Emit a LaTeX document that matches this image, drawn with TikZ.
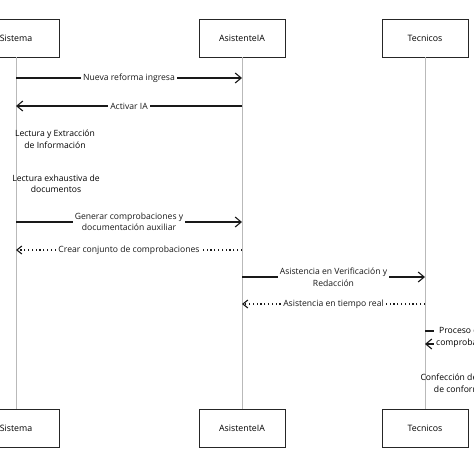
\documentclass[tikz,border=0pt]{standalone}
\usepackage{fontspec}
\setmainfont{Open Sans}
\usetikzlibrary{arrows.meta,positioning}

\begin{document}
\begin{tikzpicture}[x=1pt,y=-1pt,
  actor/.style={draw=black!85, thick, fill=white, minimum width=86pt, minimum height=38pt, font=\fontsize{8.8}{10}\selectfont},
  life/.style={gray!55, thin},
  msg/.style={black!90, line width=1.1pt, -{Straight Barb[length=6pt,width=10pt]}},
  reply/.style={black!90, line width=1.1pt, dash pattern=on 1.2pt off 2.6pt, -{Straight Barb[length=5pt,width=8pt]}},
  lbl/.style={fill=white, inner sep=2pt, align=center, font=\fontsize{8.6}{11.5}\selectfont},
  note/.style={align=center, font=\fontsize{8.6}{11.5}\selectfont}]
\useasboundingbox (0,0) rectangle (474,474);
% actors
\node[actor] (sisTop) at (16,38) {Sistema};
\node[actor] (iaTop) at (242,38) {AsistenteIA};
\node[actor] (tecTop) at (425,38) {Tecnicos};
\node[actor] (sisBot) at (16,428.5) {Sistema};
\node[actor] (iaBot) at (242,428.5) {AsistenteIA};
\node[actor] (tecBot) at (425,428.5) {Tecnicos};
\draw[life] (sisTop) -- (sisBot);
\draw[life] (iaTop) -- (iaBot);
\draw[life] (tecTop) -- (tecBot);
% rows on the lifelines
\foreach \y/\n in {78/1,106/2,222/3,250/4,277/5,304/6,331/7,344/8}{
  \coordinate (s\n) at (16,\y);
  \coordinate (a\n) at (242,\y);
  \coordinate (t\n) at (425,\y);
}
% messages
\draw[msg] (s1) -- node[lbl] {Nueva reforma ingresa} (a1);
\draw[msg] (a2) -- node[lbl] {Activar IA} (s2);
\node[note] (lectura) at (55,139) {Lectura y Extracción\\de Información};
\node[note] (exhaustiva) at (56,184) {Lectura exhaustiva de\\documentos};
\draw[msg] (s3) -- node[lbl] {Generar comprobaciones y\\documentación auxiliar} (a3);
\draw[reply] (a4) -- node[lbl] {Crear conjunto de comprobaciones} (s4);
\draw[msg] (a5) -- node[lbl] {Asistencia en Verificación y\\Redacción} (t5);
\draw[reply] (t6) -- node[lbl] {Asistencia en tiempo real} (a6);
% self message on Tecnicos
\draw[msg] (t7) -- ++(80,0) |- (t8);
\node[lbl, anchor=west, align=left] (proceso) at (434,337.5) {\hspace{3pt}Proceso de\\comprobaciones};
\node[note] (confeccion) at (466,383) {Confección de informe\\de conformidad};
\end{tikzpicture}
\end{document}
